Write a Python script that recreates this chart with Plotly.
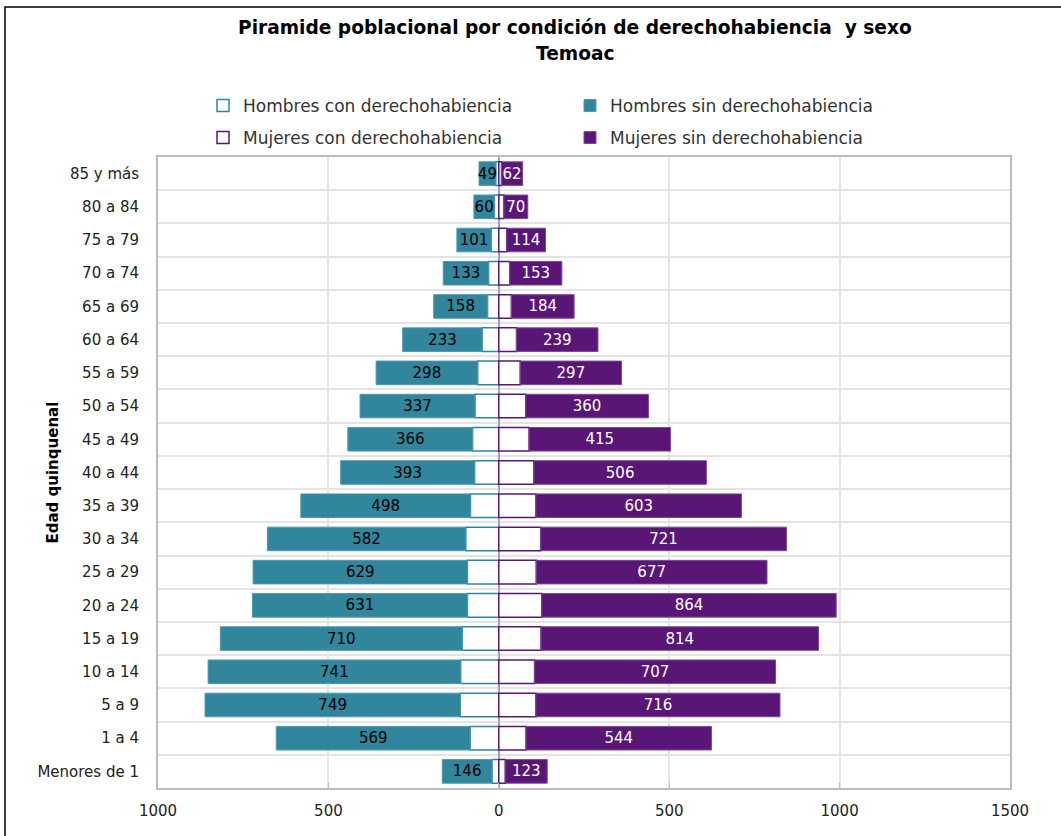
import plotly.graph_objects as go

categories = ["Menores de 1", "1 a 4", "5 a 9", "10 a 14", "15 a 19", "20 a 24", "25 a 29",
              "30 a 34", "35 a 39", "40 a 44", "45 a 49", "50 a 54", "55 a 59", "60 a 64",
              "65 a 69", "70 a 74", "75 a 79", "80 a 84", "85 y más"]
hombres_sin = [146, 569, 749, 741, 710, 631, 629, 582, 498, 393, 366, 337, 298, 233, 158, 133, 101, 60, 49]
hombres_con = [20, 84, 113, 112, 107, 92, 92, 97, 83, 71, 77, 70, 62, 49, 33, 30, 22, 13, 9]
mujeres_sin = [123, 544, 716, 707, 814, 864, 677, 721, 603, 506, 415, 360, 297, 239, 184, 153, 114, 70, 62]
mujeres_con = [19, 80, 109, 105, 124, 126, 110, 123, 109, 103, 89, 79, 63, 52, 37, 32, 23, 15, 8]
x_tickvals = [-1000, -500, 0, 500, 1000, 1500]
x_ticktext = ["1000", "500", "0", "500", "1000", "1500"]

TEAL = "#31859c"
PURPLE = "#5a1677"
FONT = "DejaVu Sans"

fig = go.Figure()
fig.add_trace(go.Bar(
    y=categories, x=[-v for v in hombres_con], orientation="h", name="Hombres con derechohabiencia",
    marker=dict(color="white", line=dict(color=TEAL, width=1.5)), legend="legend",
    hoverinfo="skip"))
fig.add_trace(go.Bar(
    y=categories, x=[-v for v in hombres_sin], orientation="h", name="Hombres sin derechohabiencia",
    marker=dict(color=TEAL, line=dict(color="#4a9ab0", width=1)), legend="legend",
    text=[str(v) for v in hombres_sin], textposition="inside", insidetextanchor="middle",
    textangle=0, textfont=dict(color="black", size=15, family=FONT), hoverinfo="skip"))
fig.add_trace(go.Bar(
    y=categories, x=mujeres_con, orientation="h", name="Mujeres con derechohabiencia",
    marker=dict(color="white", line=dict(color=PURPLE, width=1.5)), legend="legend2",
    hoverinfo="skip"))
fig.add_trace(go.Bar(
    y=categories, x=mujeres_sin, orientation="h", name="Mujeres sin derechohabiencia",
    marker=dict(color=PURPLE, line=dict(color="#7a4a93", width=1)), legend="legend2",
    text=[str(v) for v in mujeres_sin], textposition="inside", insidetextanchor="middle",
    textangle=0, textfont=dict(color="white", size=15, family=FONT), hoverinfo="skip"))

L, R, T, B = 158, 51, 157, 48
W, H = 1061, 836
pw, ph = W - L - R, H - T - B

def px_x(x):
    return (x - L) / pw

def px_y(y):
    return 1 + (T - y) / ph

legend_common = dict(orientation="h", xanchor="left", yanchor="top",
                     entrywidth=322, entrywidthmode="pixels",
                     font=dict(size=17, color="#333333", family=FONT),
                     itemwidth=30, bgcolor="rgba(0,0,0,0)", traceorder="normal")

fig.update_layout(
    width=W, height=H,
    margin=dict(l=L, r=R, t=T, b=B, autoexpand=False),
    paper_bgcolor="white", plot_bgcolor="white",
    barmode="relative", bargap=0.29,
    font=dict(family=FONT, size=15, color="#222222"),
    uniformtext=dict(minsize=15, mode="show"),
    showlegend=True,
    legend=dict(x=px_x(203), y=px_y(88), **legend_common),
    legend2=dict(x=px_x(203), y=px_y(120), **legend_common),
    xaxis=dict(range=[-1000, 1500], tickvals=x_tickvals, ticktext=x_ticktext,
               showgrid=True, gridcolor="#e4e4e4", gridwidth=1.5,
               zeroline=True, zerolinecolor="#a99cc9", zerolinewidth=2,
               showline=True, linecolor="#bdbdbd", linewidth=2, mirror=True,
               ticks="inside", ticklen=5, tickcolor="#bdbdbd",
               tickfont=dict(size=15, color="#222222"), ticklabelstandoff=8, fixedrange=True),
    yaxis=dict(categoryorder="array", categoryarray=categories, tickson="boundaries",
               showgrid=True, gridcolor="#e4e4e4", gridwidth=1.5,
               showline=True, linecolor="#bdbdbd", linewidth=2, mirror=True,
               ticks="", tickfont=dict(size=15, color="#222222"), ticklabelstandoff=14,
               fixedrange=True),
    annotations=[
        dict(text="<b>Piramide poblacional por condición de derechohabiencia  y sexo</b>",
             xref="paper", yref="paper", x=px_x(575), y=px_y(27), xanchor="center", yanchor="middle",
             showarrow=False, font=dict(size=18.6, color="black", family=FONT)),
        dict(text="<b>Temoac</b>",
             xref="paper", yref="paper", x=px_x(575), y=px_y(53), xanchor="center", yanchor="middle",
             showarrow=False, font=dict(size=18.6, color="black", family=FONT)),
        dict(text="<b>Edad quinquenal</b>", textangle=-90, xref="paper", yref="paper",
             x=px_x(52), y=0.5, xanchor="center", yanchor="middle",
             showarrow=False, font=dict(size=15, color="black", family=FONT)),
    ],
    shapes=[dict(type="rect", xref="paper", yref="paper", x0=px_x(5), x1=px_x(1080),
                 y0=px_y(860), y1=px_y(7), line=dict(color="black", width=1.5),
                 fillcolor="rgba(0,0,0,0)", layer="below")],
)

fig.write_html("out.html", config={"displayModeBar": False},
               post_script="document.body.style.margin='0';")
